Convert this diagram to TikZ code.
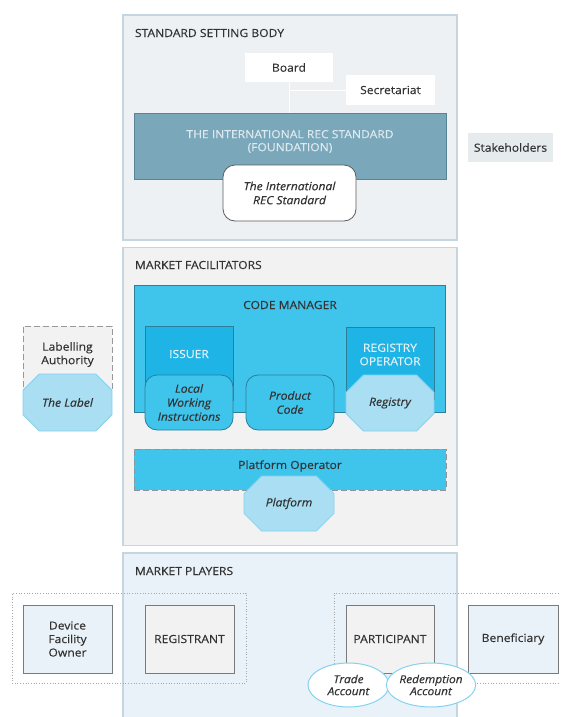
\documentclass[tikz,border=0pt]{standalone}
\usepackage{fontspec}
\setmainfont{Open Sans}[FakeStretch=1.08,FakeBold=0.35]
\usetikzlibrary{shapes.misc,shapes.geometric}
\definecolor{txt}{HTML}{333333}
\definecolor{secA}{HTML}{EDF1F4}
\definecolor{secB}{HTML}{F2F2F2}
\definecolor{secC}{HTML}{E8F2F8}
\definecolor{secborder}{HTML}{C5D6E0}
\definecolor{found}{HTML}{7AA8BA}
\definecolor{foundb}{HTML}{5A8496}
\definecolor{foundt}{HTML}{DCE9EF}
\definecolor{cyanA}{HTML}{3FC4EC}
\definecolor{cyanB}{HTML}{1EB4E6}
\definecolor{cyanborder}{HTML}{2C7E99}
\definecolor{octfill}{HTML}{A9DEF3}
\definecolor{octborder}{HTML}{86D2EE}
\definecolor{stake}{HTML}{E6EBEE}
\definecolor{boxb}{HTML}{7A7A7A}
\tikzset{
  every node/.style={inner sep=0pt,outer sep=0pt,text=txt,font=\fontsize{11.2}{13.5}\selectfont,align=center},
  secbox/.style={draw=secborder,line width=1.2pt},
  title/.style={anchor=west,font=\fontsize{11.2}{13.5}\selectfont},
  whitebox/.style={fill=white,draw=none},
  cbox/.style={fill=cyanA,draw=cyanborder,line width=0.6pt},
  cdark/.style={fill=cyanB,draw=cyanborder,line width=0.6pt},
  itfont/.style={font=\fontsize{11.2}{14}\selectfont\itshape},
  rbox/.style={fill=cyanA,draw=cyanborder,line width=0.8pt,rounded corners=12pt,itfont},
  octo/.style={chamfered rectangle,chamfered rectangle xsep=12pt,chamfered rectangle ysep=12pt,fill=octfill,draw=octborder,line width=0.8pt,itfont},
  pbox/.style={draw=boxb,line width=0.8pt,minimum width=89pt,minimum height=68pt},
  dotbox/.style={draw=gray!70,dotted,line width=0.7pt},
  acct/.style={ellipse,fill=white,draw=octborder,line width=1pt,minimum width=81pt,minimum height=44pt,font=\fontsize{11}{12}\selectfont\itshape}
}
\begin{document}
\begin{tikzpicture}[x=1pt,y=-1pt]
\useasboundingbox (0,0) rectangle (560,717);
\clip (0,0) rectangle (560,717);
% ---------- Standard setting body
\node[secbox,fill=secA,minimum width=334pt,minimum height=225pt] (ssb) at (290,127.5) {};
\node[title] (ssbt) at (135,33) {STANDARD SETTING BODY};
\node[whitebox,minimum width=88pt,minimum height=29pt] (board) at (289,67.5) {Board};
\node[whitebox,minimum width=89pt,minimum height=30pt] (secr) at (390.5,90) {Secretariat};
\node[fill=found,draw=foundb,line width=1pt,minimum width=312pt,minimum height=66pt] (found) at (290,146) {};
\draw[white,line width=1pt] (board.south) -- (board.south |- found.north);
\coordinate (junc) at (board.south |- secr.west);
\draw[white,line width=1pt] (junc) -- (secr.west);
\node[text=foundt,font=\fontsize{11.2}{13}\selectfont] (foundtext) at (290,141.5) {THE INTERNATIONAL REC STANDARD\\(FOUNDATION)};
\node[fill=white,draw=txt!80,line width=0.8pt,rounded corners=12pt,minimum width=133pt,minimum height=56pt,itfont] (irs) at (289.5,193) {The International\\REC Standard};
\node[fill=stake,minimum width=85pt,minimum height=29pt] (stakeh) at (510.5,147.5) {Stakeholders};
% ---------- Market facilitators
\node[secbox,fill=secB,minimum width=334pt,minimum height=298pt] (mf) at (290,396.5) {};
\node[title] (mft) at (135,265) {MARKET FACILITATORS};
\node[cbox,minimum width=311pt,minimum height=127pt] (cm) at (289.5,348.5) {};
\node (cmt) at (290,305) {CODE MANAGER};
\node[cdark,minimum width=88pt,minimum height=74pt] (issuer) at (189,363) {};
\node[text=foundt!70!white] (issuert) at (189,354) {ISSUER};
\node[rbox,minimum width=88pt,minimum height=55pt] (lwi) at (189,402.5) {Local\\Working\\Instructions};
\node[rbox,minimum width=88pt,minimum height=55pt] (pc) at (290,402.5) {Product\\Code};
\node[cdark,minimum width=88pt,minimum height=72pt] (ro) at (390,363) {};
\node[text=foundt!70!white] (rot) at (390,354.5) {REGISTRY\\OPERATOR};
\node[octo,minimum width=88pt,minimum height=56pt] (registry) at (390,403) {Registry};
\node[fill=cyanA,draw=gray!90!cyan,dashed,dash pattern=on 6pt off 3pt,line width=0.9pt,minimum width=312pt,minimum height=41pt] (po) at (290,469.5) {};
\node (pot) at (290,466) {Platform Operator};
\node[octo,minimum width=90pt,minimum height=55pt] (platform) at (289,503.5) {Platform};
% ---------- Labelling authority
\node[fill=secB,draw=gray!80,dashed,dash pattern=on 6pt off 3pt,line width=0.9pt,minimum width=89pt,minimum height=64pt] (la) at (67.5,358) {};
\node (lat) at (67.5,354.5) {Labelling\\Authority};
\node[octo,minimum width=89pt,minimum height=57pt] (label) at (67.5,402.5) {The Label};
% ---------- Market players
\fill[secC] (123,553) rectangle (457,730);
\draw[secborder,line width=1.2pt] (123,730) -- (123,553) -- (457,553) -- (457,730);
\node[title] (mpt) at (135,571) {MARKET PLAYERS};
\node[dotbox,minimum width=234pt,minimum height=90pt] (dotl) at (129,638) {};
\node[dotbox,minimum width=236pt,minimum height=90pt] (dotr) at (452,638) {};
\node[pbox,fill=secC] (dev) at (67.5,639) {Device\\Facility\\Owner};
\node[pbox,fill=secB] (reg) at (189.5,639) {REGISTRANT};
\node[pbox,fill=secB,minimum width=88pt] (part) at (390,639) {PARTICIPANT};
\node[pbox,fill=secC,minimum width=90pt] (ben) at (513,639) {Beneficiary};
\node[acct] (trade) at (348.5,685) {Trade\\Account};
\node[acct,minimum width=82pt] (redem) at (431,685) {Redemption\\Account};
\end{tikzpicture}
\end{document}
